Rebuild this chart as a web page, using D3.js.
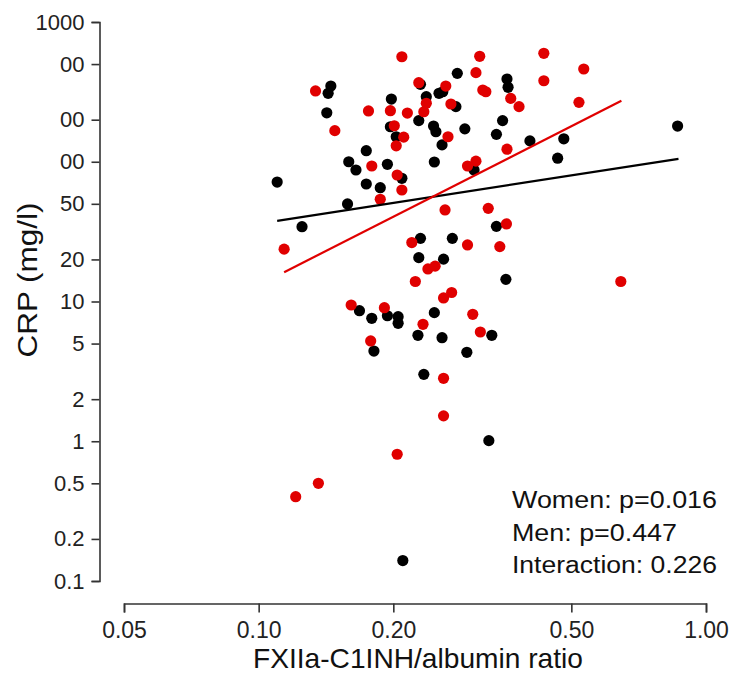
<!DOCTYPE html>
<html>
<head>
<meta charset="utf-8">
<script src="https://cdn.jsdelivr.net/npm/d3@7"></script>
<style>
  html, body { margin: 0; padding: 0; background: #fff; }
  svg { display: block; font-family: "Liberation Sans", Arial, sans-serif; }
</style>
</head>
<body>
<svg id="chart" width="732" height="675"></svg>
<script>
// ---- Data ----
const womenRatio = [0.209,0.312,0.306,0.134,0.228,0.262,0.317,0.322,0.237,0.269,0.234,0.176,0.197,0.215,0.201,0.148,0.265,0.211,0.203,0.179,0.204,0.293,0.306,0.209,0.187,0.261,0.326,0.114,0.220,0.293,0.434,0.434,0.533,0.366,0.382,0.520,0.359,0.358,0.346,0.645,0.239,0.248,0.224,0.259,0.270,0.161,0.191,0.233,0.301,0.313,0.178,0.259,0.259,0.204,0.121,0.136];
const womenCRP   = [564,568,434,321,368,348,326,317,262,259,228,231,232,223,181,167,151,150,130,93.2,80.4,93.2,101,62.8,53.9,45.2,46.4,23.7,26.4,25.4,597,380,461,284,248,266,123,35.9,24.7,13.9,17.1,17.9,13.9,10.6,11.6,9.44,9.03,6.87,8.10,6.05,5.22,2.82,1.52,0.807,0.401,0.500];
const menRatio   = [0.278,0.145,0.143,0.230,0.258,0.253,0.237,0.198,0.276,0.142,0.228,0.197,0.246,0.249,0.289,0.340,0.351,0.203,0.257,0.174,0.159,0.165,0.194,0.247,0.209,0.303,0.110,0.174,0.187,0.158,0.340,0.125,0.230,0.271,0.359,0.361,0.404,0.481,0.864,0.466,0.357,0.228,0.259,0.168,0.179,0.194,0.205,0.205,0.247,0.227,0.257,0.332,0.181,0.292,0.234,0.327,0.210];
const menCRP     = [429,348,309,358,317,309,292,281,248,224,197,178,180,164,172,157,197,151,132,120,100,87.3,95.9,99.6,76.1,87.3,71.6,69.3,65.2,49.9,34.5,34.3,28.3,28.3,391,341,141,146,180,106,14.4,20.6,20.1,8.59,7.58,7.91,7.79,6.98,8.32,5.73,5.51,5.73,4.42,4.33,3.01,1.01,0.140];
// regression line end points [ratio, CRP]
const womenFit = [[0.114, 16.2], [0.647, 273]];
const menFit   = [[0.110, 37.7], [0.868, 105]];
// axis ticks
const xTicks = [0.05, 0.10, 0.20, 0.50, 1.00];
const xTickLabels = ["0.05", "0.10", "0.20", "0.50", "1.00"];
const yTicks = [1000, 500, 200, 100, 50, 20, 10, 5, 2, 1, 0.5, 0.2, 0.1];
const yTickLabels = ["1000", "00", "00", "00", "50", "20", "10", "5", "2", "1", "0.5", "0.2", "0.1"];
const annotations = ["Women: p=0.016", "Men: p=0.447", "Interaction: 0.226"];
const xTitle = "FXIIa-C1INH/albumin ratio";
const yTitle = "CRP (mg/l)";

// ---- Chart ----
const svg = d3.select("#chart");
const RED = "#e00000", BLACK = "#000000", AXIS = "#333333";

const x = d3.scaleLog().domain([0.05, 1]).range([124, 706]);
const y = d3.scaleLog().domain([0.1, 1000]).range([581, 22]);

// Y axis
const yAxis = svg.append("g")
  .attr("transform", "translate(99.5,0)")
  .call(d3.axisLeft(y).tickValues(yTicks).tickSizeOuter(0).tickSize(8).tickPadding(7)
        .tickFormat((d, i) => yTickLabels[i]));
yAxis.select(".domain").attr("stroke", AXIS).attr("stroke-width", 1.6);
yAxis.selectAll(".tick line").attr("stroke", AXIS).attr("stroke-width", 1.6);
yAxis.selectAll(".tick text").attr("fill", "#222").style("font-size", "22px")
  .style("font-family", "'Liberation Sans', Arial, sans-serif");

// X axis
const xAxis = svg.append("g")
  .attr("transform", "translate(0,603.5)")
  .call(d3.axisBottom(x).tickValues(xTicks).tickSizeOuter(0).tickSize(9).tickPadding(9)
        .tickFormat((d, i) => xTickLabels[i]));
xAxis.select(".domain").attr("stroke", AXIS).attr("stroke-width", 1.6);
xAxis.selectAll(".tick line").attr("stroke", AXIS).attr("stroke-width", 1.6);
xAxis.selectAll(".tick text").attr("fill", "#222").style("font-size", "23px")
  .style("font-family", "'Liberation Sans', Arial, sans-serif");

// Points
const men = menRatio.map((r, i) => ({r, c: menCRP[i]}));
const women = womenRatio.map((r, i) => ({r, c: womenCRP[i]}));

svg.append("g").selectAll("circle").data(men).join("circle")
  .attr("cx", d => x(d.r)).attr("cy", d => y(d.c)).attr("r", 5.6).attr("fill", BLACK);
svg.append("g").selectAll("circle").data(women).join("circle")
  .attr("cx", d => x(d.r)).attr("cy", d => y(d.c)).attr("r", 5.6).attr("fill", RED);

// Regression lines
const line = d3.line().x(d => x(d[0])).y(d => y(d[1]));
svg.append("path").datum(menFit).attr("d", line).attr("fill", "none")
  .attr("stroke", BLACK).attr("stroke-width", 2.2);
svg.append("path").datum(womenFit).attr("d", line).attr("fill", "none")
  .attr("stroke", RED).attr("stroke-width", 2.2);

// Titles
svg.append("text").attr("x", 418).attr("y", 668).attr("text-anchor", "middle")
  .style("font-size", "28px").attr("fill", "#111")
  .attr("textLength", 330).attr("lengthAdjust", "spacingAndGlyphs").text(xTitle);
svg.append("text").attr("transform", "translate(37,280) rotate(-90)")
  .attr("text-anchor", "middle").style("font-size", "28px").attr("fill", "#111")
  .attr("textLength", 155).attr("lengthAdjust", "spacingAndGlyphs").text(yTitle);

// Annotation
const annLen = [205, 165, 205];
svg.append("g").selectAll("text").data(annotations).join("text")
  .attr("x", 512).attr("y", (d, i) => 508 + i * 32.5)
  .style("font-size", "23px").attr("fill", "#111")
  .attr("textLength", (d, i) => annLen[i]).attr("lengthAdjust", "spacingAndGlyphs")
  .text(d => d);
</script>
</body>
</html>
